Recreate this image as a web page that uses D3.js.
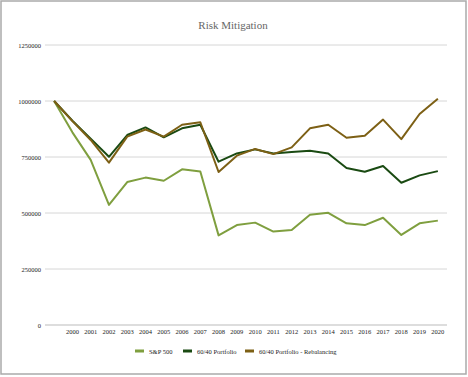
<!DOCTYPE html>
<html>
<head>
<meta charset="utf-8">
<script src="https://cdn.jsdelivr.net/npm/d3@7"></script>
<style>
  body { margin: 0; background: #fff; }
</style>
</head>
<body>
<svg id="chart" width="468" height="377" font-family="'Liberation Serif', 'Times New Roman', serif"></svg>
<script>

const years = [ "", "2000", "2001", "2002", "2003", "2004", "2005", "2006", "2007", "2008", "2009", "2010",
  "2011", "2012", "2013", "2014", "2015", "2016", "2017", "2018", "2019", "2020" ];

const sp500 = [ 1000000, 860000, 737000, 536000, 638000, 658000, 644000, 695000, 685000, 400000, 446000, 457000,
  417000, 424000, 492000, 501000, 454000, 446000, 479000, 402000, 454000, 466000 ];

const portfolio6040 = [ 1000000, 912000, 832000, 751000, 848000, 882000, 838000, 878000, 894000, 729000, 766000, 784000,
  766000, 772000, 778000, 766000, 701000, 684000, 710000, 635000, 668000, 687000 ];

const rebalancing = [ 1000000, 910000, 826000, 725000, 841000, 873000, 841000, 894000, 905000, 683000, 756000, 786000,
  763000, 793000, 878000, 894000, 836000, 845000, 917000, 830000, 942000, 1010000 ];

const yTicks = [ 0, 250000, 500000, 750000, 1000000, 1250000 ];

const seriesNames = [ "S&P 500", "60/40 Portfolio", "60/40 Portfolio - Rebalancing" ];
const seriesColors = [ "#7f9f3f", "#1a4a12", "#7d6015" ];

const svg = d3.select( "#chart" );

// frame
svg.append( "rect" )
  .attr( "x", 1 ).attr( "y", 1 )
  .attr( "width", 465 ).attr( "height", 373 )
  .attr( "fill", "#fff" )
  .attr( "stroke", "#aaa" )
  .attr( "stroke-width", 1.5 );

svg.append( "text" )
  .attr( "x", 233 ).attr( "y", 28.5 )
  .attr( "text-anchor", "middle" )
  .attr( "fill", "#666" )
  .style( "font-size", "11px" )
  .text( "Risk Mitigation" );

const x = d3.scalePoint()
  .domain( d3.range( years.length ) )
  .range( [ 45, 447 ] )
  .padding( 0.5 );

const y = d3.scaleLinear()
  .domain( [ 0, 1250000 ] )
  .range( [ 325, 45 ] );

// gridlines
svg.selectAll( "line.grid" )
  .data( yTicks )
  .enter().append( "line" )
    .attr( "class", "grid" )
    .attr( "x1", 45 ).attr( "x2", 447 )
    .attr( "y1", d => y( d ) ).attr( "y2", d => y( d ) )
    .attr( "stroke", d => d === 0 ? "#bbb" : "#ccc" )
    .attr( "stroke-width", d => d === 0 ? 1.2 : 0.8 );

svg.selectAll( "text.ytick" )
  .data( yTicks )
  .enter().append( "text" )
    .attr( "class", "ytick" )
    .attr( "x", 41 )
    .attr( "y", d => y( d ) + 2.5 )
    .attr( "text-anchor", "end" )
    .attr( "fill", "#222" )
    .style( "font-size", "6.5px" )
    .text( d => d );

svg.selectAll( "text.xtick" )
  .data( years )
  .enter().append( "text" )
    .attr( "class", "xtick" )
    .attr( "x", ( d, i ) => x( i ) )
    .attr( "y", 334 )
    .attr( "text-anchor", "middle" )
    .attr( "fill", "#222" )
    .style( "font-size", "6.5px" )
    .text( d => d );

// lines
const line = d3.line()
  .x( ( d, i ) => x( i ) )
  .y( d => y( d ) );

[ sp500, portfolio6040, rebalancing ].forEach( ( values, k ) => {
  svg.append( "path" )
    .datum( values )
    .attr( "d", line )
    .attr( "fill", "none" )
    .attr( "stroke", seriesColors[ k ] )
    .attr( "stroke-width", 2 )
    .attr( "stroke-linejoin", "round" );
} );

// legend
const legendX = [ 135, 183, 245 ];

svg.selectAll( "rect.legendSwatch" )
  .data( seriesNames )
  .enter().append( "rect" )
    .attr( "class", "legendSwatch" )
    .attr( "x", ( d, i ) => legendX[ i ] )
    .attr( "y", 349.5 )
    .attr( "width", 9 )
    .attr( "height", 3 )
    .attr( "fill", ( d, i ) => seriesColors[ i ] );

svg.selectAll( "text.legendText" )
  .data( seriesNames )
  .enter().append( "text" )
    .attr( "class", "legendText" )
    .attr( "x", ( d, i ) => legendX[ i ] + 14 )
    .attr( "y", 353.5 )
    .attr( "fill", "#222" )
    .style( "font-size", "6.5px" )
    .text( d => d );

</script>
</body>
</html>
